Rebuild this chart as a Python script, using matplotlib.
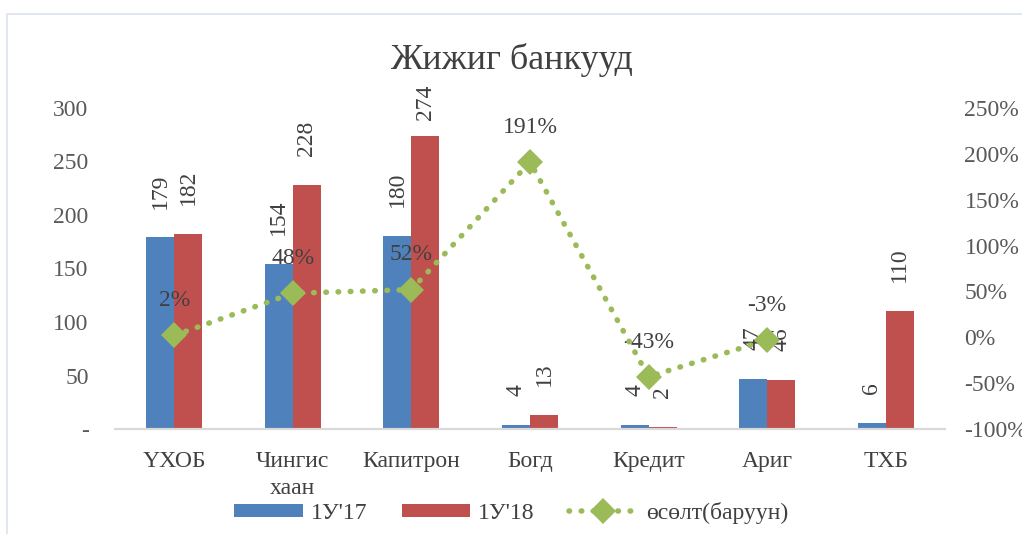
import numpy as np
import matplotlib
matplotlib.use('Agg')
import matplotlib.pyplot as plt
from matplotlib.patches import Rectangle

plt.rcParams['font.family'] = ['Liberation Serif', 'DejaVu Serif']

# Data
banks = ['ҮХОБ', 'Чингис\nхаан', 'Капитрон', 'Богд', 'Кредит', 'Ариг', 'ТХБ']
h1_17 = [179, 154, 180, 4, 4, 47, 6]
h1_18 = [182, 228, 274, 13, 2, 46, 110]
growth = [2, 48, 52, 191, -43, -3, np.nan]   # percent, ТХБ has no value

blue = '#4F81BD'
red = '#C0504D'
green = '#9BBB59'
txt = '#404040'
tick_col = '#595959'

fig = plt.figure(figsize=(10.22, 5.34), dpi=100)
ax = fig.add_axes([0.1125, 0.1966, 0.8122, 0.6012])
ax2 = ax.twinx()

x = np.arange(len(banks))
w = 0.236
b1 = ax.bar(x - w / 2, h1_17, w, color=blue, label="1У'17", zorder=2)
b2 = ax.bar(x + w / 2, h1_18, w, color=red, label="1У'18", zorder=2)

# bar value labels (rotated, above bars)
for bars, vals in [(b1, h1_17), (b2, h1_18)]:
    for rect, v in zip(bars, vals):
        y_lab = min(v + 27, 289)
        ax.text(rect.get_x() + rect.get_width() / 2, y_lab, str(v), rotation=90,
                ha='center', va='bottom', fontsize=17, color=txt, zorder=5)

ax.set_xlim(-0.5, len(banks) - 0.5)
ax.set_ylim(0, 300)
ax.set_yticks(range(0, 301, 50))
ax.set_yticklabels(['-'] + [str(v) for v in range(50, 301, 50)])
ax.set_xticks(x)
ax.set_xticklabels(banks, fontsize=17, color=txt, linespacing=1.35)

# growth line on right axis
ax2.plot(x, growth, color=green, linewidth=4, linestyle=(0, (0.1, 2.1)),
         dash_capstyle='round', marker='D', markersize=13, markeredgewidth=0,
         label='өсөлт(баруун)', zorder=4)
for xi, g in zip(x, growth):
    if np.isnan(g):
        continue
    ax2.annotate(f'{g:.0f}%', (xi, g), xytext=(0, 25), textcoords='offset points',
                 ha='center', va='center', fontsize=17, color=txt)
ax2.set_ylim(-100, 250)
ax2.set_yticks(range(-100, 251, 50))
ax2.set_yticklabels([f'{v}%' for v in range(-100, 251, 50)])

for a in (ax, ax2):
    for s in ['top', 'left', 'right']:
        a.spines[s].set_visible(False)
    a.spines['bottom'].set_color('#D9D9D9')
    a.spines['bottom'].set_linewidth(1.5)
    a.tick_params(axis='both', length=0, labelsize=17, labelcolor=tick_col)
ax.tick_params(axis='x', pad=16, labelcolor=txt)
ax.tick_params(axis='y', pad=19)
ax2.tick_params(axis='y', pad=14)
ax.set_zorder(ax2.get_zorder() - 1)
ax.patch.set_visible(False)
ax2.patch.set_visible(False)

fig.suptitle('Жижиг банкууд', y=0.888, va='center', fontsize=26, color=txt)

# legend
h1, l1 = ax.get_legend_handles_labels()
h2, l2 = ax2.get_legend_handles_labels()
fig.legend(h1 + h2, l1 + l2, loc='center', bbox_to_anchor=(0.5, 0.04), ncol=3,
           frameon=False, fontsize=17, handlelength=2.9, handleheight=0.5,
           columnspacing=1.45, handletextpad=0.35, labelcolor=txt)

# faint outer chart border
fig.patches.append(Rectangle((7 / 1022, -0.01), 1.02, 1 - 14 / 534 + 0.01,
                             transform=fig.transFigure, fill=False,
                             edgecolor='#DCE3EE', linewidth=1.2))

fig.savefig('out.png', dpi=100)
